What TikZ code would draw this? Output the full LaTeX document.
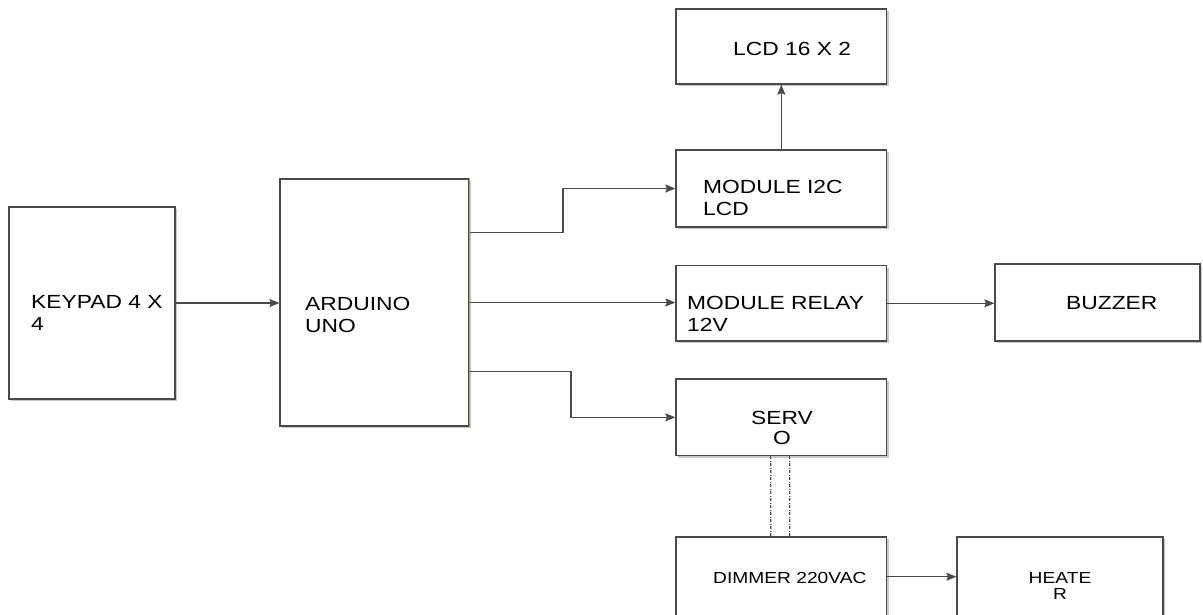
\documentclass[tikz,border=0pt]{standalone}
\usepackage{fontspec}
\setmainfont{Liberation Sans}[FakeStretch=1.2]
\usetikzlibrary{positioning, arrows.meta, shadows}
\definecolor{linec}{HTML}{4A4A4A}
\definecolor{shadec}{HTML}{C8C8C8}
\definecolor{edgec}{HTML}{A8A070}

\begin{document}
\begin{tikzpicture}[
    x=1pt, y=-1pt,
    >={Stealth[length=10pt,width=8pt,inset=1.5pt]},
    blk/.style={draw=linec, line width=1.2pt, fill=white, inner sep=0pt,
        drop shadow={shadow xshift=2pt, shadow yshift=-2pt, fill=shadec, opacity=1}},
    txt/.style={inner sep=0pt, align=left, anchor=north west, font=\fontsize{19}{22}\selectfont},
    small/.style={font=\fontsize{16}{16.5}\selectfont},
    arr/.style={->, draw=linec, line width=1.2pt},
    link/.style={draw=linec, line width=1pt, dash pattern=on 3pt off 1.5pt on 1pt off 1.5pt}
]
\useasboundingbox (0,0) rectangle (1203,614);
\clip (0,0) rectangle (1203,614);

\node[blk, minimum width=166pt, minimum height=192pt] (keypad) at (92,303) {};
\node[blk, minimum width=189pt, minimum height=247pt] (arduino) at (374.5,302.5) {};
\node[blk, minimum width=210.7pt, minimum height=75pt] (lcd) at (781.3,46.5) {};
\node[blk, minimum width=210.7pt, minimum height=77pt] (i2c) at (781.3,188.5) {};
\node[blk, minimum width=210.7pt, minimum height=75.3pt] (relay) at (781.3,303.3) {};
\node[blk, minimum width=205pt, minimum height=77pt] (buzzer) at (1097.5,302.5) {};
\node[blk, minimum width=210.7pt, minimum height=76.7pt] (servo) at (781.3,417.3) {};
\node[blk, minimum width=210.7pt, minimum height=79.4pt] (dimmer) at (781.3,576.7) {};
\node[blk, minimum width=206pt, minimum height=79.4pt] (heater) at (1060,576.7) {};
\draw[edgec, line width=1.2pt] (arduino.north east) -- (arduino.south east);

\node[txt] (keypadtxt) at (31,295.5) {KEYPAD 4 X\\4};
\node[txt] (arduinotxt) at (305,297) {ARDUINO\\UNO};
\node[txt] (lcdtxt) at (733,42) {LCD 16 X 2};
\node[txt] (i2ctxt) at (703,180) {MODULE I2C\\LCD};
\node[txt] (relaytxt) at (687,296) {MODULE RELAY\\12V};
\node[txt] (buzzertxt) at (1066,296) {BUZZER};
\node[txt, anchor=north, align=center, font=\fontsize{19}{20}\selectfont] (servotxt) at (782,411) {SERV\\O};
\node[txt, small] (dimmertxt) at (713,572) {DIMMER 220VAC};
\node[txt, small, anchor=north, align=center] (heatertxt) at (1060,572) {HEATE\\R};

\coordinate (bendA) at (563,232.3);
\coordinate (bendB) at (571,371.3);
\draw[arr] (keypad.east) -- (keypad.east -| arduino.west);
\draw[arr] (arduino.east |- bendA) -- (bendA) |- (i2c.west);
\draw[arr] (arduino.east) -- (arduino.east -| relay.west);
\draw[arr] (arduino.east |- bendB) -- (bendB) |- (servo.west);
\draw[arr] (i2c) -- (lcd);
\draw[arr] (relay.east) -- (relay.east -| buzzer.west);
\draw[arr] (dimmer) -- (heater);
\foreach \dx in {-11.3,7.7} {
  \draw[link, draw=shadec] ([xshift=\dx pt+1.5pt]servo.south) -- ([xshift=\dx pt+1.5pt]dimmer.north);
  \draw[link] ([xshift=\dx pt]servo.south) -- ([xshift=\dx pt]dimmer.north);
}
\end{tikzpicture}
\end{document}
